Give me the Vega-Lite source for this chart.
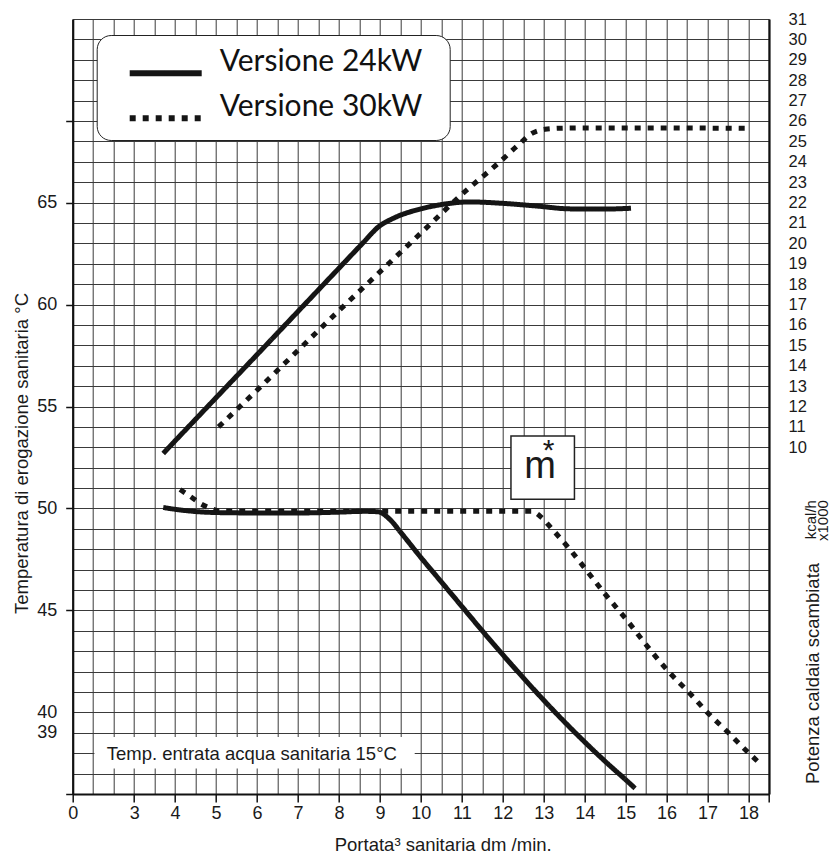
{
  "$schema": "https://vega.github.io/schema/vega-lite/v6.json",
  "width": 696.3,
  "height": 775,
  "autosize": {"type": "none"},
  "padding": {"left": 72.7, "top": 19, "right": 61, "bottom": 60},
  "background": "white",
  "config": {
    "font": "Liberation Sans",
    "view": {"stroke": null},
    "axis": {"labelFont": "Liberation Sans", "titleFont": "Liberation Sans", "labelColor": "#1a1a1a", "titleColor": "#1a1a1a", "titleFontWeight": "normal"},
    "text": {"font": "Liberation Sans", "color": "#1a1a1a"}
  },
  "datasets": {
    "temp": [
      {"versione": "Versione 24kW", "portata": 3.71, "temperatura": 50.05},
      {"versione": "Versione 24kW", "portata": 4.0, "temperatura": 49.96},
      {"versione": "Versione 24kW", "portata": 4.5, "temperatura": 49.85},
      {"versione": "Versione 24kW", "portata": 5.0, "temperatura": 49.8},
      {"versione": "Versione 24kW", "portata": 6.0, "temperatura": 49.78},
      {"versione": "Versione 24kW", "portata": 7.0, "temperatura": 49.78},
      {"versione": "Versione 24kW", "portata": 8.0, "temperatura": 49.82},
      {"versione": "Versione 24kW", "portata": 8.6, "temperatura": 49.86},
      {"versione": "Versione 24kW", "portata": 8.95, "temperatura": 49.84},
      {"versione": "Versione 24kW", "portata": 9.25, "temperatura": 49.45},
      {"versione": "Versione 24kW", "portata": 9.5, "temperatura": 48.85},
      {"versione": "Versione 24kW", "portata": 10.0, "temperatura": 47.6},
      {"versione": "Versione 24kW", "portata": 10.5, "temperatura": 46.4},
      {"versione": "Versione 24kW", "portata": 11.0, "temperatura": 45.2},
      {"versione": "Versione 24kW", "portata": 11.5, "temperatura": 44.0},
      {"versione": "Versione 24kW", "portata": 12.0, "temperatura": 42.83},
      {"versione": "Versione 24kW", "portata": 12.5, "temperatura": 41.7},
      {"versione": "Versione 24kW", "portata": 13.0, "temperatura": 40.6},
      {"versione": "Versione 24kW", "portata": 13.5, "temperatura": 39.55},
      {"versione": "Versione 24kW", "portata": 14.0, "temperatura": 38.55},
      {"versione": "Versione 24kW", "portata": 14.5, "temperatura": 37.6},
      {"versione": "Versione 24kW", "portata": 15.0, "temperatura": 36.7},
      {"versione": "Versione 24kW", "portata": 15.23, "temperatura": 36.28},
      {"versione": "Versione 30kW", "portata": 4.12, "temperatura": 50.93},
      {"versione": "Versione 30kW", "portata": 4.4, "temperatura": 50.55},
      {"versione": "Versione 30kW", "portata": 4.61, "temperatura": 50.25},
      {"versione": "Versione 30kW", "portata": 4.85, "temperatura": 50.02},
      {"versione": "Versione 30kW", "portata": 5.1, "temperatura": 49.88},
      {"versione": "Versione 30kW", "portata": 6.0, "temperatura": 49.86},
      {"versione": "Versione 30kW", "portata": 7.0, "temperatura": 49.86},
      {"versione": "Versione 30kW", "portata": 8.0, "temperatura": 49.86},
      {"versione": "Versione 30kW", "portata": 9.0, "temperatura": 49.86},
      {"versione": "Versione 30kW", "portata": 10.0, "temperatura": 49.86},
      {"versione": "Versione 30kW", "portata": 11.0, "temperatura": 49.86},
      {"versione": "Versione 30kW", "portata": 12.0, "temperatura": 49.86},
      {"versione": "Versione 30kW", "portata": 12.7, "temperatura": 49.86},
      {"versione": "Versione 30kW", "portata": 12.95, "temperatura": 49.55},
      {"versione": "Versione 30kW", "portata": 13.19, "temperatura": 49.02},
      {"versione": "Versione 30kW", "portata": 13.64, "temperatura": 47.99},
      {"versione": "Versione 30kW", "portata": 14.09, "temperatura": 46.85},
      {"versione": "Versione 30kW", "portata": 14.5, "temperatura": 45.8},
      {"versione": "Versione 30kW", "portata": 15.0, "temperatura": 44.6},
      {"versione": "Versione 30kW", "portata": 15.59, "temperatura": 43.09},
      {"versione": "Versione 30kW", "portata": 16.04, "temperatura": 42.02},
      {"versione": "Versione 30kW", "portata": 16.53, "temperatura": 41.01},
      {"versione": "Versione 30kW", "portata": 17.02, "temperatura": 39.95},
      {"versione": "Versione 30kW", "portata": 17.51, "temperatura": 39.0},
      {"versione": "Versione 30kW", "portata": 18.0, "temperatura": 38.02},
      {"versione": "Versione 30kW", "portata": 18.26, "temperatura": 37.53}
    ],
    "power": [
      {"versione": "Versione 24kW", "portata": 3.71, "potenza": 9.7},
      {"versione": "Versione 24kW", "portata": 5.0, "potenza": 12.43},
      {"versione": "Versione 24kW", "portata": 6.0, "potenza": 14.54},
      {"versione": "Versione 24kW", "portata": 7.0, "potenza": 16.66},
      {"versione": "Versione 24kW", "portata": 8.0, "potenza": 18.78},
      {"versione": "Versione 24kW", "portata": 8.6, "potenza": 20.05},
      {"versione": "Versione 24kW", "portata": 8.96, "potenza": 20.8},
      {"versione": "Versione 24kW", "portata": 9.33, "potenza": 21.23},
      {"versione": "Versione 24kW", "portata": 9.98, "potenza": 21.68},
      {"versione": "Versione 24kW", "portata": 10.5, "potenza": 21.9},
      {"versione": "Versione 24kW", "portata": 11.2, "potenza": 22.03},
      {"versione": "Versione 24kW", "portata": 12.01, "potenza": 21.96},
      {"versione": "Versione 24kW", "portata": 12.83, "potenza": 21.83},
      {"versione": "Versione 24kW", "portata": 13.64, "potenza": 21.69},
      {"versione": "Versione 24kW", "portata": 14.45, "potenza": 21.68},
      {"versione": "Versione 24kW", "portata": 15.13, "potenza": 21.72},
      {"versione": "Versione 30kW", "portata": 5.06, "potenza": 11.0},
      {"versione": "Versione 30kW", "portata": 6.0, "potenza": 12.8},
      {"versione": "Versione 30kW", "portata": 7.0, "potenza": 14.75},
      {"versione": "Versione 30kW", "portata": 8.0, "potenza": 16.7},
      {"versione": "Versione 30kW", "portata": 9.0, "potenza": 18.6},
      {"versione": "Versione 30kW", "portata": 10.0, "potenza": 20.5},
      {"versione": "Versione 30kW", "portata": 11.0, "potenza": 22.4},
      {"versione": "Versione 30kW", "portata": 11.93, "potenza": 24.0},
      {"versione": "Versione 30kW", "portata": 12.42, "potenza": 24.9},
      {"versione": "Versione 30kW", "portata": 12.71, "potenza": 25.39},
      {"versione": "Versione 30kW", "portata": 13.03, "potenza": 25.59},
      {"versione": "Versione 30kW", "portata": 13.5, "potenza": 25.65},
      {"versione": "Versione 30kW", "portata": 14.0, "potenza": 25.66},
      {"versione": "Versione 30kW", "portata": 15.0, "potenza": 25.66},
      {"versione": "Versione 30kW", "portata": 16.0, "potenza": 25.66},
      {"versione": "Versione 30kW", "portata": 17.0, "potenza": 25.65},
      {"versione": "Versione 30kW", "portata": 18.0, "potenza": 25.64}
    ]
  },
  "layer": [
    {
      "layer": [
        {
          "data": {"name": "temp"},
          "mark": {"type": "line", "interpolate": "monotone", "strokeWidth": 5, "color": "#151515", "strokeCap": "butt"},
          "encoding": {
            "x": {
              "field": "portata", "type": "quantitative",
              "scale": {"domain": [1.5, 18.5], "nice": false, "zero": false},
              "axis": {
                "values": [1.5, 2, 2.5, 3, 3.5, 4, 4.5, 5, 5.5, 6, 6.5, 7, 7.5, 8, 8.5, 9, 9.5, 10, 10.5, 11, 11.5, 12, 12.5, 13, 13.5, 14, 14.5, 15, 15.5, 16, 16.5, 17, 17.5, 18, 18.5],
                "tickCount": 100,
                "title": "Portata³ sanitaria dm /min.",
                "titleFontSize": 18.5, "titleX": 370, "titleY": 56.5, "titleAlign": "center", "titleBaseline": "alphabetic",
                "labelExpr": "datum.value == 1.5 ? '0' : ((datum.value >= 3 && datum.value <= 18 && datum.value % 1 == 0) ? toString(datum.value) : '')",
                "labelFontSize": 18, "labelPadding": 2, "labelFlush": false, "labelOverlap": false, "labelBound": false,
                "tickSize": 8, "tickColor": "#111", "tickWidth": 1.5,
                "tickOpacity": {"condition": {"test": "datum.value == 1.5 || datum.value == 18.5 || (datum.value >= 3 && datum.value % 1 == 0)", "value": 1}, "value": 0},
                "grid": true, "gridColor": "#3a3a3a", "gridWidth": 1,
                "domainColor": "#111", "domainWidth": 2.2
              }
            },
            "y": {
              "field": "temperatura", "type": "quantitative",
              "scale": {"domain": [36, 74], "nice": false, "zero": false},
              "axis": {
                "values": [36, 37, 38, 39, 40, 41, 42, 43, 44, 45, 46, 47, 48, 49, 50, 51, 52, 53, 54, 55, 56, 57, 58, 59, 60, 61, 62, 63, 64, 65, 66, 67, 68, 69, 70, 71, 72, 73, 74],
                "tickCount": 100,
                "title": "Temperatura di erogazione sanitaria  °C",
                "titleFontSize": 18.5, "titleAngle": 270, "titleX": -44.7, "titleY": 434, "titleAlign": "center", "titleBaseline": "alphabetic",
                "labelExpr": "indexof([39, 40, 45, 50, 55, 60, 65], datum.value) >= 0 ? toString(datum.value) : ''",
                "labelFontSize": 18, "labelPadding": 9, "labelOverlap": false, "labelFlush": false, "labelBound": false,
                "tickSize": 7, "tickColor": "#111", "tickWidth": 1.5,
                "tickOpacity": {"condition": {"test": "indexof([36, 45, 50, 55, 60, 65, 69], datum.value) >= 0", "value": 1}, "value": 0},
                "grid": true, "gridColor": "#3a3a3a", "gridWidth": 1,
                "domainColor": "#111", "domainWidth": 2.2
              }
            },
            "strokeDash": {
              "field": "versione", "type": "nominal",
              "scale": {"domain": ["Versione 24kW", "Versione 30kW"], "range": [[1, 0], [6, 7]]},
              "legend": {
                "orient": "none", "legendX": 24, "legendY": 16,
                "title": "\u00a0", "titleOrient": "right", "titlePadding": 18, "titleFontSize": 2,
                "padding": 9, "cornerRadius": 14, "strokeColor": "#222", "fillColor": "white",
                "symbolType": "M-2.4,0.75H2.4", "symbolSize": 900, "symbolStrokeWidth": 6, "symbolStrokeColor": "#111", "symbolFillColor": "transparent", "symbolOffset": 42,
                "labelFont": "Lato", "labelFontSize": 30, "labelColor": "#111", "labelOffset": 36, "labelLimit": 600,
                "rowPadding": 3, "labelBaseline": "middle"
              }
            }
          }
        },
        {
          "data": {"values": [{}]},
          "mark": {"type": "rect", "fill": "white", "stroke": "#222", "strokeWidth": 1.5},
          "encoding": {
            "x": {"datum": 12.2, "type": "quantitative", "scale": {"domain": [1.5, 18.5], "nice": false, "zero": false}},
            "x2": {"datum": 13.75},
            "y": {"datum": 53.55, "type": "quantitative", "scale": {"domain": [36, 74], "nice": false, "zero": false}},
            "y2": {"datum": 50.45}
          }
        },
        {
          "data": {"values": [{}]},
          "mark": {"type": "rect", "fill": "white", "strokeWidth": 0},
          "encoding": {
            "x": {"datum": 2.03, "type": "quantitative", "scale": {"domain": [1.5, 18.5], "nice": false, "zero": false}},
            "x2": {"datum": 9.85},
            "y": {"datum": 38.8, "type": "quantitative", "scale": {"domain": [36, 74], "nice": false, "zero": false}},
            "y2": {"datum": 37.25}
          }
        },
        {
          "data": {"values": [{}]},
          "mark": {"type": "text", "text": "Temp. entrata acqua sanitaria 15°C", "fontSize": 18.5, "align": "left", "baseline": "alphabetic"},
          "encoding": {
            "x": {"datum": 2.33, "type": "quantitative", "scale": {"domain": [1.5, 18.5], "nice": false, "zero": false}},
            "y": {"datum": 37.66, "type": "quantitative", "scale": {"domain": [36, 74], "nice": false, "zero": false}}
          }
        },
        {
          "data": {"values": [{}]},
          "mark": {"type": "text", "text": "m", "fontSize": 38, "align": "center", "baseline": "alphabetic"},
          "encoding": {
            "x": {"datum": 12.91, "type": "quantitative", "scale": {"domain": [1.5, 18.5], "nice": false, "zero": false}},
            "y": {"datum": 51.47, "type": "quantitative", "scale": {"domain": [36, 74], "nice": false, "zero": false}}
          }
        },
        {
          "data": {"values": [{}]},
          "mark": {"type": "text", "text": "*", "fontSize": 30, "align": "center", "baseline": "alphabetic"},
          "encoding": {
            "x": {"datum": 13.12, "type": "quantitative", "scale": {"domain": [1.5, 18.5], "nice": false, "zero": false}},
            "y": {"datum": 52.4, "type": "quantitative", "scale": {"domain": [36, 74], "nice": false, "zero": false}}
          }
        },
        {
          "data": {"values": [{}]},
          "mark": {"type": "text", "text": "kcal/h", "fontSize": 15, "align": "right", "baseline": "alphabetic", "angle": 270},
          "encoding": {
            "x": {"datum": 19.64, "type": "quantitative", "scale": {"domain": [1.5, 18.5], "nice": false, "zero": false}},
            "y": {"datum": 50.41, "type": "quantitative", "scale": {"domain": [36, 74], "nice": false, "zero": false}}
          }
        },
        {
          "data": {"values": [{}]},
          "mark": {"type": "text", "text": "x1000", "fontSize": 15, "align": "right", "baseline": "alphabetic", "angle": 270},
          "encoding": {
            "x": {"datum": 19.95, "type": "quantitative", "scale": {"domain": [1.5, 18.5], "nice": false, "zero": false}},
            "y": {"datum": 50.41, "type": "quantitative", "scale": {"domain": [36, 74], "nice": false, "zero": false}}
          }
        }
      ]
    },
    {
      "data": {"name": "power"},
      "mark": {"type": "line", "interpolate": "monotone", "strokeWidth": 5, "color": "#151515", "strokeCap": "butt"},
      "encoding": {
        "x": {"field": "portata", "type": "quantitative", "scale": {"domain": [1.5, 18.5], "nice": false, "zero": false}},
        "y": {
          "field": "potenza", "type": "quantitative",
          "scale": {"domain": [-7, 31], "nice": false, "zero": false},
          "axis": {
            "orient": "right",
            "values": [10, 11, 12, 13, 14, 15, 16, 17, 18, 19, 20, 21, 22, 23, 24, 25, 26, 27, 28, 29, 30, 31],
            "tickCount": 100,
            "labelExpr": "toString(datum.value)",
            "title": "Potenza caldaia scambiata",
            "titleFontSize": 18.5, "titleAngle": 270, "titleX": 49, "titleY": 654, "titleAlign": "center", "titleBaseline": "alphabetic",
            "labelFontSize": 16.5, "labelPadding": 19, "labelAlign": "left", "labelOverlap": false, "labelFlush": false, "labelBound": false,
            "ticks": false, "tickSize": 0, "grid": false,
            "domainColor": "#111", "domainWidth": 2.2
          }
        },
        "strokeDash": {
          "field": "versione", "type": "nominal",
          "scale": {"domain": ["Versione 24kW", "Versione 30kW"], "range": [[1, 0], [6, 7]]}
        }
      }
    }
  ],
  "resolve": {"scale": {"y": "independent"}, "axis": {"y": "independent"}}
}
